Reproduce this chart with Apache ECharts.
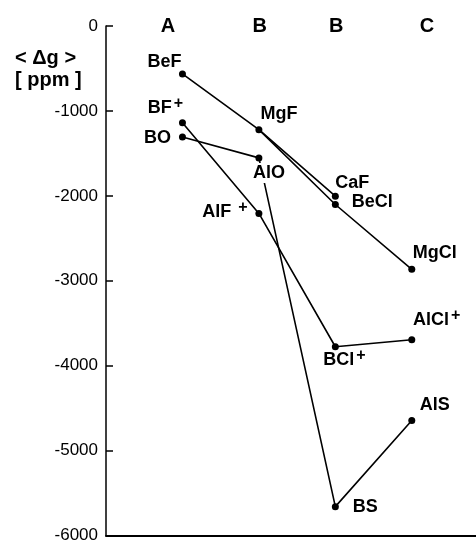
<!DOCTYPE html>
<html>
<head>
<meta charset="utf-8">
<script src="https://cdn.jsdelivr.net/npm/echarts@6/dist/echarts.min.js"></script>
<style>
  html, body { margin: 0; padding: 0; background: #fff; }
  #chart { width: 476px; height: 544px; }
</style>
</head>
<body>
<div id="chart"></div>
<script>
// molecules, their column (1..4) and <Δg> in ppm
const names = ["BeF", "BF+", "BO", "MgF", "AlO", "AlF+", "CaF", "BeCl", "BCl+", "BS", "MgCl", "AlCl+", "AlS"];
const cols = [1, 1, 1, 2, 2, 2, 3, 3, 3, 3, 4, 4, 4];
const dg = [-564, -1139, -1308, -1221, -1553, -2207, -2004, -2102, -3777, -5660, -2865, -3695, -4646];

// connected sequences
const chains = [
  ["BeF", "MgF", "CaF"],
  ["MgF", "BeCl", "MgCl"],
  ["BF+", "AlF+", "BCl+", "AlCl+"],
  ["BO", "AlO", "BS", "AlS"],
];

// column headers along the top
const headers = ["A", "B", "B", "C"];
const headerX = [0.81, 2.01, 3.01, 4.2];

const yTicks = [0, -1000, -2000, -3000, -4000, -5000, -6000];

// label placement [dx, dy] around each point
const labelOffset = {
  "BeF": [-18, -12],
  "BF+": [-17, -15],
  "BO": [-25, 1],
  "MgF": [20, -16],
  "AlO": [10, 15],
  "AlF+": [-34, -1],
  "CaF": [17, -13],
  "BeCl": [37, -2],
  "BCl+": [9, 13],
  "BS": [30, 0],
  "MgCl": [23, -16],
  "AlCl+": [25, -20],
  "AlS": [23, -15],
};

const font = "Liberation Sans, Arial, Helvetica, sans-serif";

const chart = echarts.init(document.getElementById("chart"));

const pointOf = (n) => {
  const i = names.indexOf(n);
  return [cols[i], dg[i]];
};

const fmtName = (n) => {
  if (n.endsWith("+")) {
    const base = n.slice(0, -1);
    const gap = n === "AlF+" ? " " : "";
    return "{t|" + base + gap + "}{s|+}";
  }
  return "{t|" + n + "}";
};

const lineSeries = chains.map((c) => ({
  type: "line",
  data: c.map(pointOf),
  showSymbol: false,
  symbol: "none",
  lineStyle: { color: "#000", width: 1.6 },
  z: 2,
  silent: true,
}));

const pointSeries = {
  type: "scatter",
  symbol: "circle",
  symbolSize: 7,
  itemStyle: { color: "#000", opacity: 1 },
  z: 4,
  data: names.map((n, i) => ({
    name: n,
    value: [cols[i], dg[i]],
    label: {
      show: true,
      position: "inside",
      offset: labelOffset[n],
      formatter: fmtName(n),
      backgroundColor: n === "AlO" ? "#fff" : "transparent",
      padding: n === "AlO" ? [1, 1] : 0,
      rich: {
        t: { fontFamily: font, fontSize: 18, fontWeight: "bold", color: "#000" },
        s: { fontFamily: font, fontSize: 16, fontWeight: "bold", color: "#000", padding: [0, 0, 9, 2] },
      },
    },
  })),
};

const headerSeries = {
  type: "scatter",
  symbolSize: 0,
  silent: true,
  z: 5,
  itemStyle: { opacity: 1 },
  data: headers.map((h, i) => [headerX[i], 0, h]),
  label: {
    show: true,
    position: "inside",
    formatter: (p) => p.data[2],
    fontFamily: font,
    fontSize: 20,
    fontWeight: "bold",
    color: "#000",
  },
};

chart.setOption({
  animation: false,
  backgroundColor: "#fff",
  title: {
    text: "< Δg >\n[ ppm ]",
    left: 10,
    top: 42,
    textStyle: { fontFamily: font, fontSize: 20, fontWeight: "bold", color: "#000", lineHeight: 22 },
  },
  grid: { left: 106, right: 0, top: 26, bottom: 7, containLabel: false },
  xAxis: {
    type: "value",
    min: 0,
    max: 4.84,
    axisLine: { show: true, onZero: false, lineStyle: { color: "#000", width: 2 } },
    axisTick: { show: false },
    axisLabel: { show: false },
    splitLine: { show: false },
  },
  yAxis: {
    type: "value",
    min: yTicks[yTicks.length - 1],
    max: yTicks[0],
    interval: 1000,
    axisLine: { show: true, lineStyle: { color: "#000", width: 1.5 } },
    axisTick: { show: true, inside: true, length: 7, lineStyle: { color: "#000", width: 1.5 } },
    axisLabel: {
      fontFamily: font,
      fontSize: 17,
      color: "#000",
      margin: 8,
      formatter: (v) => String(v),
    },
    splitLine: { show: false },
  },
  series: [...lineSeries, pointSeries, headerSeries],
});
</script>
</body>
</html>
